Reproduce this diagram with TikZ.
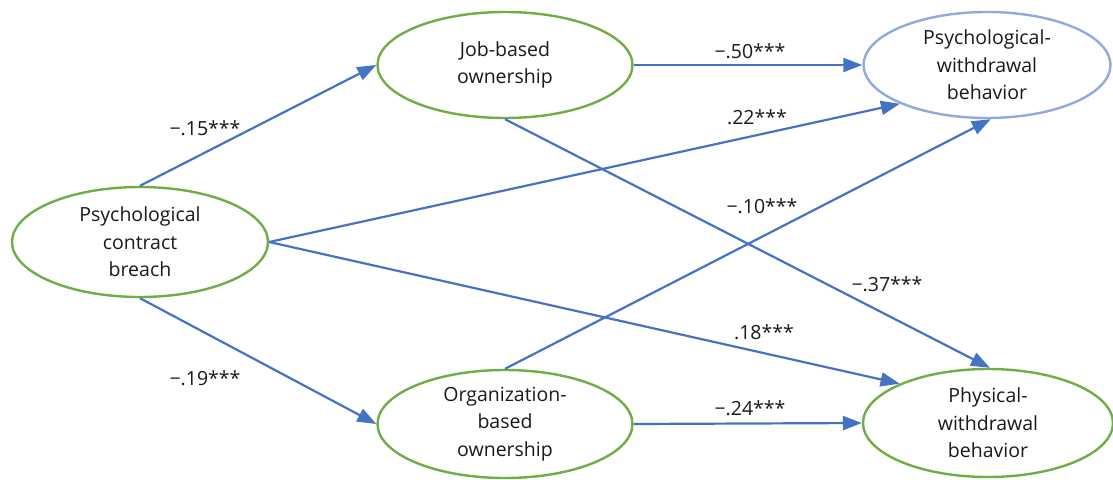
\documentclass[tikz,border=0pt]{standalone}
\usepackage{fontspec}
\setmainfont{Open Sans}
\usetikzlibrary{shapes.geometric,arrows.meta}
\definecolor{grn}{HTML}{70AD47}
\definecolor{blu}{HTML}{4472C4}
\definecolor{lblu}{HTML}{8FAADC}
\tikzset{
  construct/.style={ellipse, draw=grn, line width=2.4pt, inner sep=0pt, align=center,
    font=\fontsize{19.5}{27.5}\selectfont, text=black!90},
  path/.style={draw=blu, line width=2.2pt, -{Triangle[length=19pt,width=14pt]}},
  coef/.style={font=\fontsize{19.5}{22}\selectfont, text=black!90, inner sep=0pt}
}
\begin{document}
\begin{tikzpicture}[x=1pt,y=-1pt]
\useasboundingbox (0,0) rectangle (1113,479);
\node[construct, minimum width=256pt, minimum height=110pt] (pcb) at (140,242) {Psychological\\contract\\breach};
\node[construct, minimum width=255pt, minimum height=106pt] (job) at (505,65) {Job-based\\ownership};
\node[construct, minimum width=255pt, minimum height=108pt] (org) at (505,424) {Organization-\\based\\ownership};
\node[construct, draw=lblu, minimum width=247pt, minimum height=106pt] (psw) at (987,65) {Psychological-\\withdrawal\\behavior};
\node[construct, minimum width=250pt, minimum height=108pt] (phw) at (988,423) {Physical-\\withdrawal\\behavior};

\draw[path] (pcb.north) -- (job.west);
\draw[path] (pcb.south) -- (org.west);
\draw[path] (job.east) -- (psw.west);
\draw[path] (org.east) -- (phw.west);
\draw[path] (pcb.east) -- (psw.204);
\draw[path] (pcb.east) -- (phw.156);
\draw[path] (job.south) -- (phw.88);
\draw[path] (org.north) -- (psw.274);

\node[coef] (l1) at (205,128) {−.15***};
\node[coef] (l2) at (205,378) {−.19***};
\node[coef] (l3) at (750,51) {−.50***};
\node[coef] (l4) at (757,117) {.22***};
\node[coef] (l5) at (762,206) {−.10***};
\node[coef] (l6) at (887,284) {−.37***};
\node[coef] (l7) at (764,332) {.18***};
\node[coef] (l8) at (750,408) {−.24***};
\end{tikzpicture}
\end{document}
